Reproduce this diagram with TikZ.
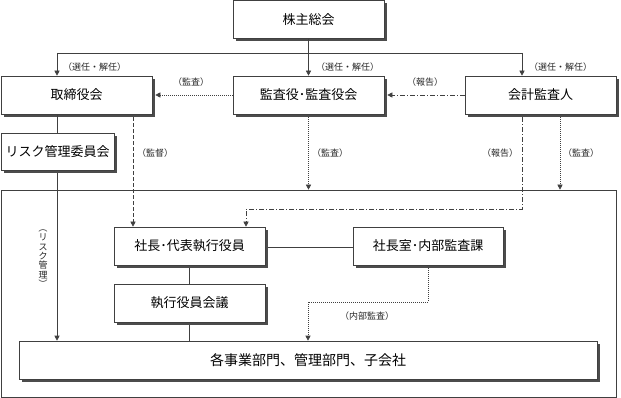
\documentclass[tikz,border=0pt]{standalone}
\usepackage{fontspec}
\newfontfamily\cjk{Noto Sans CJK JP}
\usetikzlibrary{arrows.meta,shadows,calc}
\begin{document}
\begin{tikzpicture}[x=1pt,y=-1pt,
 box/.style={draw=black!75, line width=0.6pt, fill=white, rectangle, inner sep=0pt,
   minimum height=38pt,
   drop shadow={shadow xshift=3pt,shadow yshift=-3pt,fill=black!70,opacity=1},
   font=\cjk\fontsize{13}{15}\selectfont},
 lbl/.style={font=\cjk\fontsize{9}{10}\selectfont, inner sep=0pt, text=black!85},
 ln/.style={draw=black!75, line width=0.6pt},
 arr/.style={ln, -{Triangle[width=5pt,length=5pt]}},
 dotl/.style={dash pattern=on 1pt off 1pt},
 dshl/.style={dash pattern=on 4pt off 2pt},
 dashdotl/.style={dash pattern=on 5pt off 2pt on 1pt off 2pt},
]
\useasboundingbox (0,0) rectangle (621,398);
\node (outer) [draw=black!75, line width=0.6pt, minimum width=615pt, minimum height=207pt, inner sep=0pt] at (308.5,293.5) {};

\node (kabu)   [box, minimum width=151pt] at (308.5,19.5) {株主総会};
\node (tori)   [box, minimum width=151pt] at (76.5,95) {取締役会};
\node (kansa)  [box, minimum width=151pt] at (308.5,95) {監査役･監査役会};
\node (kaikei) [box, minimum width=151pt] at (540.5,95) {会計監査人};
\node (risk)   [box, minimum width=113pt, minimum height=37pt] at (57.5,151.5) {リスク管理委員会};
\node (shacho) [box, minimum width=151pt] at (189.5,246) {社長･代表執行役員};
\node (shitsu) [box, minimum width=150pt] at (428,246) {社長室･内部監査課};
\node (shikko) [box, minimum width=151pt] at (189.5,303) {執行役員会議};
\node (kaku)   [box, minimum width=578pt, font=\cjk\fontsize{14}{16}\selectfont] at (308,360) {各事業部門、管理部門、子会社};

% election lines
\coordinate (hL) at (57,53);
\coordinate (hR) at (522,53);
\draw[arr] (kabu.south) -- (kansa.north);
\draw[ln] (hL) -- (hR);
\draw[arr] (hL) -- (hL |- tori.north);
\draw[arr] (hR) -- (hR |- kaikei.north);

% horizontal audit/report
\draw[arr,dotl] (kansa.west) -- ($(tori.east)+(3,0)$);
\draw[arr,dashdotl] (kaikei.west) -- ($(kansa.east)+(3,0)$);

% risk management
\coordinate (rx) at (57,0);
\draw[ln] (rx |- tori.south) -- (rx |- risk.north);
\draw[arr] ($(rx |- risk.south)+(0,3)$) -- (rx |- kaku.north);

% supervision
\coordinate (sx) at (133,0);
\draw[arr,dshl] ($(sx |- tori.south)+(0,3)$) -- (sx |- shacho.north);

% audit down
\draw[arr,dotl] ($(kansa.south)+(0,3)$) -- (kansa.south |- outer.north);
\coordinate (mx) at (560,0);
\draw[arr,dotl] ($(mx |- kaikei.south)+(0,3)$) -- (mx |- outer.north);

% report down
\coordinate (kx) at (522,209);
\coordinate (ky) at (246,209);
\draw[arr,dashdotl] ($(kx |- kaikei.south)+(0,3)$) -- (kx) -- (ky) -- (ky |- shacho.north);

% internal
\draw[ln] ($(shacho.east)+(3,1)$) -- ($(shitsu.west)+(0,1)$);
\draw[ln] ($(shacho.south)+(0,3)$) -- (shikko.north);
\draw[ln] ($(shikko.south)+(0,3)$) -- (shikko.south |- kaku.north);
\coordinate (ia) at (308,302);
\draw[arr,dotl] ($(shitsu.south)+(0,3)$) -- (shitsu.south |- ia) -- (ia) -- (ia |- kaku.north);

% labels
\node (l1) [lbl, anchor=west] at (63,67) {（選任・解任）};
\node (l2) [lbl, anchor=west] at (316,67) {（選任・解任）};
\node (l3) [lbl, anchor=west] at (529,67) {（選任・解任）};
\node (l4) [lbl] at (191,82) {（監査）};
\node (l5) [lbl] at (425,82) {（報告）};
\node (l6) [lbl] at (155,153) {（監督）};
\node (l7) [lbl] at (330,153) {（監査）};
\node (l8) [lbl] at (500,153) {（報告）};
\node (l9) [lbl] at (581,153) {（監査）};
\node (l10) [lbl] at (367,316) {（内部監査）};
\node (l11) [lbl, align=center, font=\cjk\fontsize{9}{9.3}\selectfont] at (43,256)
  {\rotatebox[origin=c]{-90}{（}\\リ\\ス\\ク\\管\\理\\\rotatebox[origin=c]{-90}{）}};
\end{tikzpicture}
\end{document}
